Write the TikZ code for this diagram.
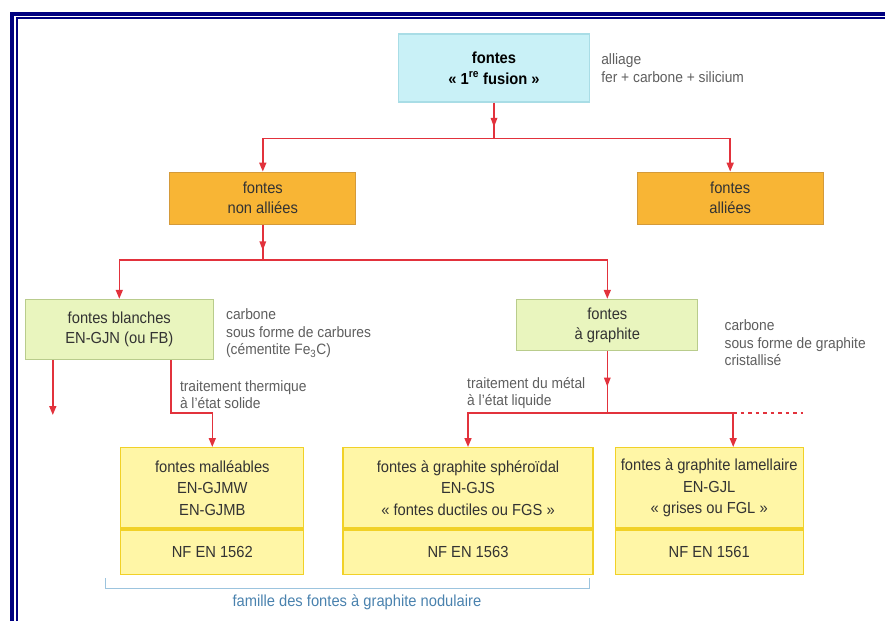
\documentclass[tikz,border=0pt]{standalone}
\usepackage{fontspec}
\setmainfont{Liberation Sans}[FakeStretch=0.92]
\usepackage{xcolor}
\usetikzlibrary{arrows.meta, positioning, calc, decorations.markings}

\definecolor{cadre}{HTML}{000080}
\definecolor{flux}{HTML}{E2323C}
\definecolor{cyanfond}{HTML}{C9F1F7}
\definecolor{cyantrait}{HTML}{A9DDE6}
\definecolor{orangefond}{HTML}{F8B535}
\definecolor{orangetrait}{HTML}{D49A3A}
\definecolor{vertfond}{HTML}{E9F5BE}
\definecolor{verttrait}{HTML}{B9CC8C}
\definecolor{jaunefond}{HTML}{FFF6A6}
\definecolor{jaunetrait}{HTML}{F1D127}
\definecolor{notegris}{HTML}{5E5E5E}
\definecolor{accolade}{HTML}{9CC4DE}
\definecolor{famille}{HTML}{4A82AE}

\begin{document}
\begin{tikzpicture}[
  x=1pt, y=1pt,
  box/.style={draw, rectangle, line width=1.2pt, align=center, inner sep=2pt,
              text=black!80, font=\fontsize{16}{20}\selectfont},
  racine/.style={box, fill=cyanfond, draw=cyantrait, minimum width=191pt,
                 minimum height=68pt, text=black, font=\bfseries\fontsize{16}{21}\selectfont},
  branche/.style={box, fill=orangefond, draw=orangetrait, minimum width=186pt, minimum height=52pt},
  sorte/.style={box, fill=vertfond, draw=verttrait},
  classe/.style={box, fill=jaunefond, draw=jaunetrait, minimum height=81pt,
                 font=\fontsize{16}{21.5}\selectfont},
  norme/.style={box, fill=jaunefond, draw=jaunetrait, minimum height=45pt},
  note/.style={align=left, inner sep=1pt, text=notegris, font=\fontsize{15}{17.5}\selectfont},
  lien/.style={draw=flux, line width=1.6pt},
  arr/.style={lien, -{Triangle[length=9pt, width=7pt]}},
  midarrow/.style={postaction={decorate}, decoration={markings,
                   mark=at position #1 with {\fill[flux] (4.5pt,0pt) -- (-4.5pt,3.5pt) -- (-4.5pt,-3.5pt) -- cycle;}}}
]
  \useasboundingbox (0,0) rectangle (885,-621);

  % cadre
  \draw[cadre, line width=4.2pt] (12.2,-621) -- (12.2,-14) -- (885,-14);
  \draw[cadre, line width=1.7pt] (16.9,-621) -- (16.9,-17.9) -- (885,-17.9);

  \node[racine] (fonte) at (494,-68) {fontes\\« 1\textsuperscript{re} fusion »};
  \node[note, right=10pt of fonte] (alliage) {alliage\\fer + carbone + silicium};

  \node[branche, below left=69pt and 41.5pt of fonte]  (nonalliee) {fontes\\non alliées};
  \node[branche, below right=69pt and 46.5pt of fonte] (alliee)    {fontes\\alliées};

  \node[sorte, minimum width=188pt, minimum height=60pt, below=74pt of nonalliee, xshift=-143.5pt] (blanche) {fontes blanches\\EN-GJN (ou FB)};
  \node[sorte, minimum width=181pt, minimum height=51pt, below=74pt of nonalliee, xshift=344.5pt] (graphite) {fontes\\à graphite};
  \node[note, right=11pt of blanche, yshift=-4pt] (carbures) {carbone\\sous forme de carbures\\(cémentite Fe\textsubscript{3}C)};
  \node[note, right=25pt of graphite, yshift=-18pt] (cristal) {carbone\\sous forme de graphite\\cristallisé};

  \node[classe, minimum width=183pt, below=87pt of blanche, xshift=93pt] (malleable) {fontes malléables\\EN-GJMW\\EN-GJMB};
  \node[classe, minimum width=250pt, right=38pt of malleable] (spheroidal) {fontes à graphite sphéroïdal\\EN-GJS\\« fontes ductiles ou FGS »};
  \node[classe, minimum width=188pt, right=21pt of spheroidal] (lamellaire) {fontes à graphite lamellaire\\EN-GJL\\« grises ou FGL »};
  \node[norme, minimum width=183pt, below=0pt of malleable]  (nf1562) {NF EN 1562};
  \node[norme, minimum width=250pt, below=0pt of spheroidal] (nf1563) {NF EN 1563};
  \node[norme, minimum width=188pt, below=0pt of lamellaire] (nf1561) {NF EN 1561};
  \foreach \b in {malleable, spheroidal, lamellaire}
    \draw[jaunetrait, line width=4pt] (\b.south west) -- (\b.south east);

  % points de branchement
  \coordinate[below=36pt of fonte] (j1);
  \coordinate[below=35pt of nonalliee] (j2);
  \coordinate[below=62pt of graphite] (j3);
  \coordinate[below=53pt of blanche, xshift=51.5pt] (bend);
  \coordinate[below=55pt of blanche, xshift=-66.5pt] (autre);
  \coordinate (gauche) at (j3 -| spheroidal.north);
  \coordinate (droite) at ($(j3 -| lamellaire.north)+(24,0)$);
  \coordinate[right=70pt of droite] (suite);

  \draw[lien, midarrow=0.55] (fonte) -- (j1);
  \draw[arr] (j1) -| (nonalliee);
  \draw[arr] (j1) -| (alliee);
  \draw[lien, midarrow=0.6] (nonalliee) -- (j2);
  \draw[arr] (j2) -| (blanche);
  \draw[arr] (j2) -| (graphite);
  \draw[arr] (blanche.south -| autre) -- (autre);
  \draw[arr] (blanche.south -| bend) -- (bend) -| (malleable);
  \draw[lien, midarrow=0.5] (graphite) -- (j3);
  \draw[arr] (j3) -- (gauche) -- (spheroidal);
  \draw[arr] (j3) -- (droite) -- (droite |- lamellaire.north);
  \draw[lien, dash pattern=on 3.5pt off 4pt] (droite) -- (suite);

  \node[note, above right=3pt and 8pt of bend] (thermique) {traitement thermique\\à l'état solide};
  \node[note, above right=3pt and -2pt of gauche] (liquide) {traitement du métal\\à l'état liquide};

  % accolade
  \draw[accolade, line width=1.3pt] ([xshift=-15pt, yshift=-3pt]nf1562.south west) -- ++(0,-10)
    -| ([xshift=-4pt, yshift=-3pt]nf1563.south east);
  \coordinate (milieu) at ($(nf1562.south west)!0.5!(nf1563.south east)$);
  \node[note, text=famille, font=\fontsize{16}{18}\selectfont, below=18pt of milieu] (nodulaire) {famille des fontes à graphite nodulaire};
\end{tikzpicture}
\end{document}
